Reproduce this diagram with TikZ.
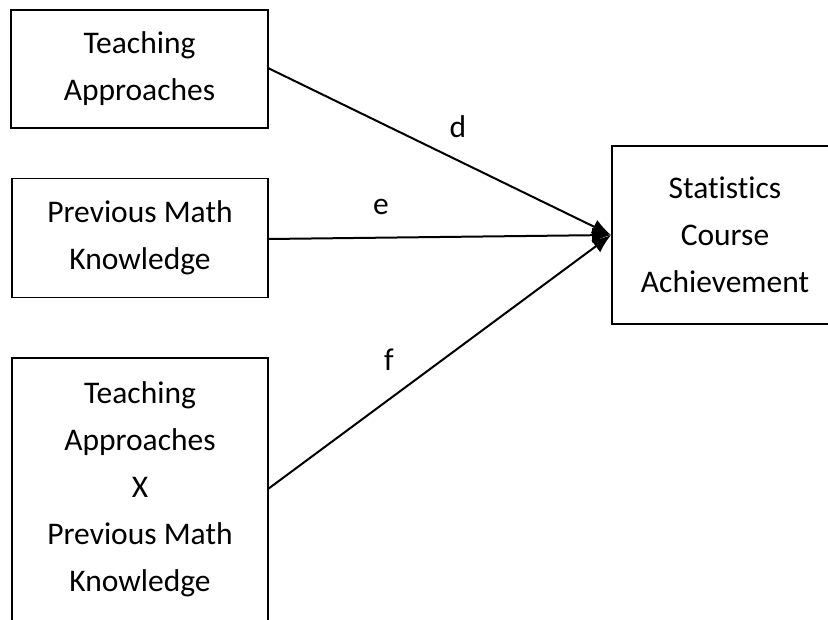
\documentclass[tikz,border=0pt]{standalone}
\usepackage{fontspec}
\setmainfont[Ligatures=NoCommon]{Carlito}
\usetikzlibrary{arrows.meta}
\begin{document}
\begin{tikzpicture}[x=1pt,y=-1pt,
  box/.style={draw=black,line width=1.8pt,rectangle,inner sep=0pt,
    align=center,font=\fontsize{31.5}{47}\selectfont},
  txt/.style={align=center,font=\fontsize{31.5}{47}\selectfont,inner sep=0pt},
  path/.style={draw=black,line width=2pt,-{Latex[length=19pt,width=15pt]}},
  coef/.style={font=\fontsize{31.5}{47}\selectfont,inner sep=0pt}]
\useasboundingbox (0,0) rectangle (828,619);
\fill[white] (0,0) rectangle (828,619);

% predictor boxes
\node[box,minimum width=257pt,minimum height=118pt] (ta) at (139.5,69) {Teaching\\Approaches};
\node[box,minimum width=256pt,minimum height=119pt] (pm) at (140,238) {Previous Math\\Knowledge};
\node[box,minimum width=256pt,minimum height=320pt] (ix) at (140,518) {};
\node[txt] (ixt) at (140,489) {Teaching\\Approaches\\X\\Previous Math\\Knowledge};

% outcome box
\node[box,minimum width=226pt,minimum height=178pt] (sc) at (725,235) {Statistics\\Course\\Achievement};

% start points of the paths
\coordinate (s1) at (268,68);
\coordinate (s2) at (268,239);
\coordinate (s3) at (268,489);

\draw[path] (s1) -- (sc.west);
\draw[path] (s2) -- (sc.west);
\draw[path] (s3) -- (sc.west);

% path coefficients
\node[coef] (d) at (458,127) {d};
\node[coef] (e) at (381,207) {e};
\node[coef] (f) at (389,360) {f};
\end{tikzpicture}
\end{document}
